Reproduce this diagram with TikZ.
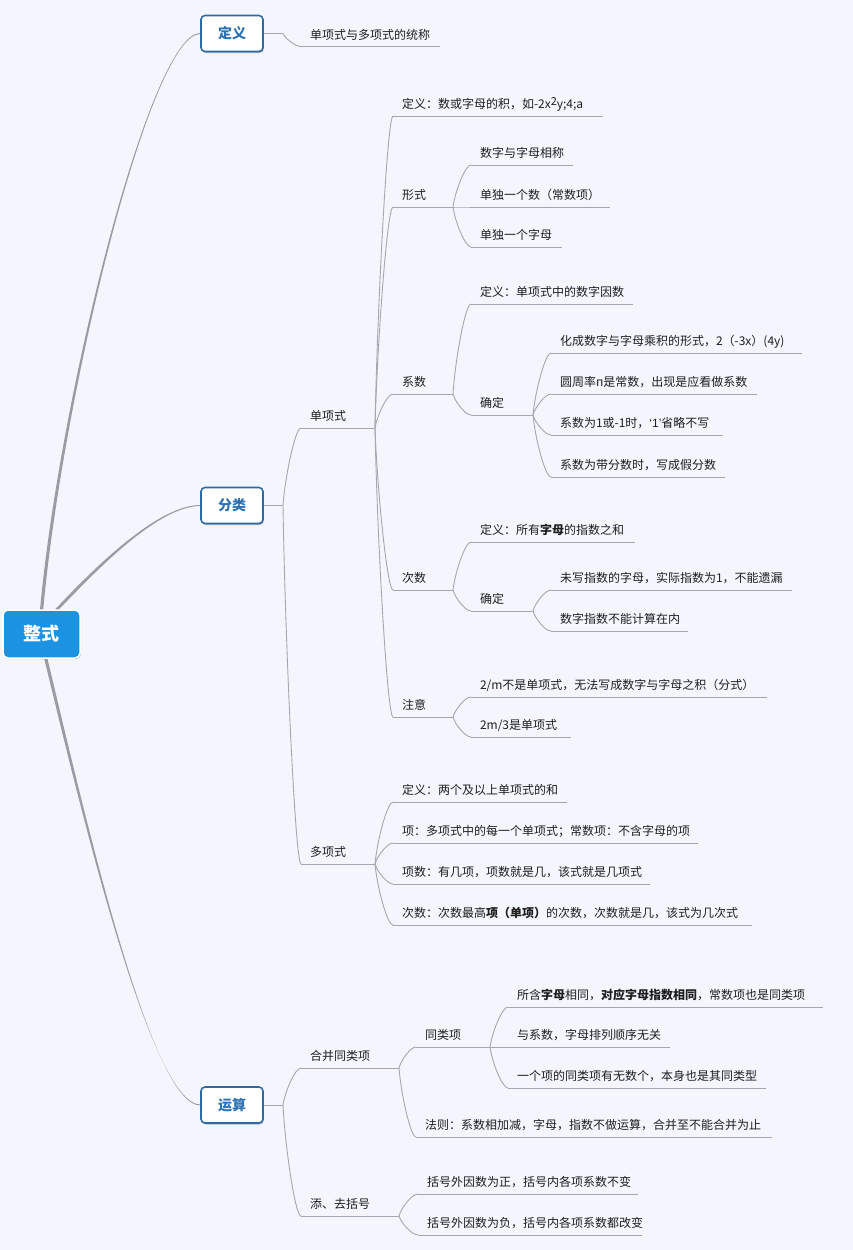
\documentclass[tikz,border=0pt]{standalone}
\usepackage{fontspec}
\setmainfont{Noto Sans CJK SC}
\newfontfamily\qfont{Liberation Sans}
\usetikzlibrary{calc,shadows,backgrounds}
\definecolor{bg}{HTML}{F3F6FD}
\definecolor{linec}{HTML}{A4A7B1}
\definecolor{branchc}{HTML}{9A9CA3}
\definecolor{txt}{HTML}{1E1E1E}
\definecolor{boxb}{HTML}{2C6BA6}
\definecolor{boxt}{HTML}{2D72B5}
\definecolor{rootf}{HTML}{1C93E2}
\tikzset{
 topic/.style={anchor=south west, inner xsep=9pt, inner ysep=5.4pt, outer sep=0pt,
   text height=10pt, text depth=2pt, font=\fontsize{12}{14}\selectfont, text=txt},
 uline/.style={draw=linec, line width=0.9pt},
 conn/.style={draw=linec, line width=0.9pt},
 bc/.style={to path={let \p1=(\tikztostart), \p2=(\tikztotarget) in
   .. controls ({\x1+0.12*(\x2-\x1)},{\y1+0.38*(\y2-\y1)}) and ({\x1+0.68*(\x2-\x1)},{\y2}) .. (\tikztotarget)}},
 lvlbox/.style={draw=boxb, line width=1.6pt, fill=white, rounded corners=4pt,
   minimum width=62pt, minimum height=36pt, inner sep=0pt,
   font=\fontsize{14}{16}\selectfont\bfseries, text=boxt,
   drop shadow={shadow xshift=0.8pt, shadow yshift=-1.5pt, fill=black, opacity=0.25}},
 rootbox/.style={fill=rootf, draw=white, line width=1.5pt, rounded corners=5pt,
   minimum width=77pt, minimum height=48pt, inner sep=0pt,
   font=\fontsize{18}{20}\selectfont\bfseries, text=white,
   drop shadow={shadow xshift=0.8pt, shadow yshift=-1.2pt, fill=black, opacity=0.25}},
}
\newcommand\tp[5]{%
  \node[topic] (#1) at (#2,#4) {\makebox[\dimexpr#3pt-#2pt-18pt\relax][l]{#5}};
  \draw[uline] (#1.south west) -- (#1.south east);}
\begin{document}
\begin{tikzpicture}[x=1pt,y=-1pt]
\begin{scope}[on background layer]
\fill[bg] (0,0) rectangle (853,1250);
\end{scope}
\useasboundingbox (0,0) rectangle (853,1250);

% root and first level
\node[rootbox] (root) at (41.5,634) {整式};
\node[lvlbox] (dingyi) at (232,33.5) {定义};
\node[lvlbox] (fenlei) at (232,505.5) {分类};
\node[lvlbox] (yunsuan) at (232,1105) {运算};

\begin{scope}[on background layer]
\fill[branchc] ($(root.north)+(-1.8,4)$) .. controls (58.5,400) and (150,32.9) .. ($(dingyi.west)+(0,-0.5)$)
  -- ($(dingyi.west)+(0,0.5)$) .. controls (150,34.1) and (61.5,400) .. ($(root.north)+(1.4,4)$) -- cycle;
\fill[branchc] ($(root.north)+(10,4)$) .. controls (79,584) and (153,504.9) .. ($(fenlei.west)+(0,-0.5)$)
  -- ($(fenlei.west)+(0,0.5)$) .. controls (153,506.1) and (81.5,587) .. ($(root.north)+(13.5,4)$) -- cycle;
\fill[branchc] ($(root.south)+(1.8,-4)$) .. controls (78.5,800) and (150,1104.4) .. ($(yunsuan.west)+(0,-0.5)$)
  -- ($(yunsuan.west)+(0,0.5)$) .. controls (150,1105.6) and (81.5,800) .. ($(root.south)+(5,-4)$) -- cycle;
\end{scope}

\coordinate (j1) at (283,33.5);
\coordinate (j2) at (283,505.5);
\coordinate (j3) at (283,1105);
\draw[conn] (dingyi.east) -- (j1);
\draw[conn] (fenlei.east) -- (j2);
\draw[conn] (yunsuan.east) -- (j3);

% 定义
\tp{t0}{301}{440}{46.5}{单项式与多项式的统称}
\draw[conn] (j1) to[bc] (t0.south west);

% 分类 - 单项式
\tp{dxs}{301}{375}{428}{单项式}
\tp{dxs1}{393}{603}{116}{定义：数或字母的积，如-2x\raisebox{3.5pt}{\fontsize{11}{12}\selectfont 2}y;4;a}
\tp{xs}{393}{453}{207}{形式}
\tp{xs1}{471}{573}{165}{数字与字母相称}
\tp{xs2}{471}{610}{207}{单独一个数（常数项）}
\tp{xs3}{471}{562}{247}{单独一个字母}
\tp{xsh}{393}{453}{394}{系数}
\tp{xsh1}{471}{633}{304}{定义：单项式中的数字因数}
\tp{xsh2}{471}{533}{415}{确定}
\tp{qd1}{551}{802}{353}{化成数字与字母乘积的形式，2（-3x）(4y)}
\tp{qd2}{551}{757}{394}{圆周率п是常数，出现是应看做系数}
\tp{qd3}{551}{723}{435}{系数为1或-1时，{\qfont\symbol{"2018}1\symbol{"2019}}省略不写}
\tp{qd4}{551}{725}{477}{系数为带分数时，写成假分数}
\tp{cs}{393}{453}{590}{次数}
\tp{cs1}{471}{635}{542}{定义：所有\textbf{字母}的指数之和}
\tp{cs2}{471}{533}{611}{确定}
\tp{cq1}{551}{792}{590}{未写指数的字母，实际指数为1，不能遗漏}
\tp{cq2}{551}{688}{631}{数字指数不能计算在内}
\tp{zy}{393}{453}{717}{注意}
\tp{zy1}{471}{767}{697}{2/m不是单项式，无法写成数字与字母之积（分式）}
\tp{zy2}{471}{571}{737}{2m/3是单项式}

% 分类 - 多项式
\tp{dx}{301}{375}{864}{多项式}
\tp{dx1}{393}{567}{802}{定义：两个及以上单项式的和}
\tp{dx2}{393}{698}{843}{项：多项式中的每一个单项式；常数项：不含字母的项}
\tp{dx3}{393}{650}{884}{项数：有几项，项数就是几，该式就是几项式}
\tp{dx4}{393}{752}{925}{次数：次数最高\textbf{项（单项）}的次数，次数就是几，该式为几次式}

% 运算
\tp{hb}{301}{399}{1068}{合并同类项}
\tp{tl}{416}{490}{1047}{同类项}
\tp{tl1}{508}{823}{1007}{所含\textbf{字母}相同，\textbf{对应字母指数相同}，常数项也是同类项}
\tp{tl2}{508}{670}{1047}{与系数，字母排列顺序无关}
\tp{tl3}{508}{766}{1088}{一个项的同类项有无数个，本身也是其同类型}
\tp{fz}{416}{772}{1137}{法则：系数相加减，字母，指数不做运算，合并至不能合并为止}
\tp{kh}{301}{399}{1216}{添、去括号}
\tp{kh1}{418}{638}{1194}{括号外因数为正，括号内各项系数不变}
\tp{kh2}{418}{642}{1235}{括号外因数为负，括号内各项系数都改变}

% connectors
\draw[conn] (j2) to[bc] (dxs.south west);
\draw[conn] (j2) to[bc] (dx.south west);
\foreach \c in {dxs1,xs,xsh,cs,zy} \draw[conn] (dxs.south east) to[bc] (\c.south west);
\foreach \c in {xs1,xs2,xs3} \draw[conn] (xs.south east) to[bc] (\c.south west);
\foreach \c in {xsh1,xsh2} \draw[conn] (xsh.south east) to[bc] (\c.south west);
\foreach \c in {qd1,qd2,qd3,qd4} \draw[conn] (xsh2.south east) to[bc] (\c.south west);
\foreach \c in {cs1,cs2} \draw[conn] (cs.south east) to[bc] (\c.south west);
\foreach \c in {cq1,cq2} \draw[conn] (cs2.south east) to[bc] (\c.south west);
\foreach \c in {zy1,zy2} \draw[conn] (zy.south east) to[bc] (\c.south west);
\foreach \c in {dx1,dx2,dx3,dx4} \draw[conn] (dx.south east) to[bc] (\c.south west);
\draw[conn] (j3) to[bc] (hb.south west);
\draw[conn] (j3) to[bc] (kh.south west);
\foreach \c in {tl,fz} \draw[conn] (hb.south east) to[bc] (\c.south west);
\foreach \c in {tl1,tl2,tl3} \draw[conn] (tl.south east) to[bc] (\c.south west);
\foreach \c in {kh1,kh2} \draw[conn] (kh.south east) to[bc] (\c.south west);
\end{tikzpicture}
\end{document}
